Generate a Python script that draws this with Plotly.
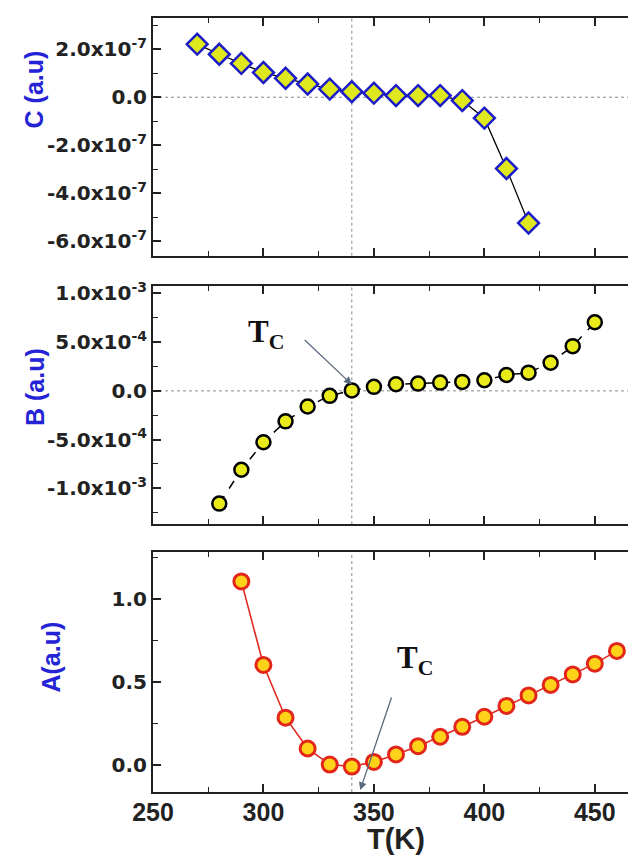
import plotly.graph_objects as go

# ---------------- data ----------------
T_C_panel = [270, 280, 290, 300, 310, 320, 330, 340, 350, 360, 370, 380, 390, 400, 410, 420]
C_vals = [2.21e-7, 1.79e-7, 1.41e-7, 1.03e-7, 7.9e-8, 5.5e-8, 3.4e-8, 2.3e-8, 1.7e-8,
          7e-9, 7e-9, 7e-9, -1.4e-8, -8.7e-8, -2.97e-7, -5.24e-7]

T_B_panel = [280, 290, 300, 310, 320, 330, 340, 350, 360, 370, 380, 390, 400, 410, 420, 430, 440, 450]
B_vals = [-1.157e-3, -8.1e-4, -5.27e-4, -3.13e-4, -1.6e-4, -5.1e-5, 5e-6, 4.1e-5, 6.8e-5,
          7.5e-5, 8.5e-5, 9.2e-5, 1.09e-4, 1.63e-4, 1.87e-4, 2.89e-4, 4.59e-4, 7.04e-4]

T_A_panel = [290, 300, 310, 320, 330, 340, 350, 360, 370, 380, 390, 400, 410, 420, 430, 440, 450, 460]
A_vals = [1.107, 0.602, 0.283, 0.097, 0.0, -0.012, 0.016, 0.061, 0.111, 0.168, 0.228,
          0.289, 0.354, 0.418, 0.481, 0.545, 0.610, 0.687]

x_tickvals = [250, 300, 350, 400, 450]
x_ticktext = ["250", "300", "350", "400", "450"]

C_tickvals = [-6e-7, -4e-7, -2e-7, 0, 2e-7]
C_ticktext = ["-6.0x10<sup>-7</sup>", "-4.0x10<sup>-7</sup>", "-2.0x10<sup>-7</sup>", "0.0",
              "2.0x10<sup>-7</sup>"]
B_tickvals = [-1e-3, -5e-4, 0, 5e-4, 1e-3]
B_ticktext = ["-1.0x10<sup>-3</sup>", "-5.0x10<sup>-4</sup>", "0.0", "5.0x10<sup>-4</sup>",
              "1.0x10<sup>-3</sup>"]
A_tickvals = [0, 0.5, 1.0]
A_ticktext = ["0.0", "0.5", "1.0"]

Tc = 340
x_range = [250, 470]
C_range = [-6.6e-7, 3.3e-7]
B_range = [-1.37e-3, 1.08e-3]
A_range = [-0.166, 1.283]

# ---------------- figure ----------------
fig = go.Figure()

fig.add_trace(go.Scatter(
    x=T_C_panel, y=C_vals, mode="lines+markers", xaxis="x", yaxis="y",
    line=dict(color="black", width=1.3),
    marker=dict(symbol="diamond", size=16, color="#dfe81c",
                line=dict(color="#1c1cc8", width=2.5)),
    showlegend=False))

fig.add_trace(go.Scatter(
    x=T_B_panel, y=B_vals, mode="lines+markers", xaxis="x2", yaxis="y2",
    line=dict(color="black", width=1.5, dash="dash"),
    marker=dict(symbol="circle", size=14, color="#e8ea1a",
                line=dict(color="black", width=2.5)),
    showlegend=False))

fig.add_trace(go.Scatter(
    x=T_A_panel, y=A_vals, mode="lines+markers", xaxis="x3", yaxis="y3",
    line=dict(color="#e02a20", width=1.6),
    marker=dict(symbol="circle", size=15, color="#ffd21a",
                line=dict(color="#e3261a", width=3)),
    showlegend=False))

# geometry (pixels): plot area x 145..633, y 9..784
H = 775.0
def yp(px):
    return (784 - px) / H
def xp(px):
    return (px - 145) / 488.0

dom_top = [yp(247), 1.0]
dom_mid = [yp(516), yp(277)]
dom_bot = [0.0, yp(544)]

tickfont_y = dict(family="DejaVu Sans", size=20, color="#222222", weight="bold")
tickfont_x = dict(family="Liberation Sans", size=25, color="#222222", weight="bold")

def xaxis_cfg(anchor, show_labels):
    return dict(
        domain=[0, 1], anchor=anchor, range=x_range,
        showline=True, linecolor="#222222", linewidth=2, mirror="ticks",
        ticks="inside", ticklen=8, tickwidth=1.5, tickcolor="#222222",
        tickmode="array", tickvals=x_tickvals, ticktext=x_ticktext,
        showticklabels=show_labels, tickfont=tickfont_x, ticklabelstandoff=-3,
        minor=dict(tickvals=[275, 325, 375, 425], ticks="inside", ticklen=5,
                   tickwidth=1.2, tickcolor="#222222"),
        showgrid=False, zeroline=False)

def yaxis_cfg(anchor, dom, rng, vals, text, minor_vals):
    return dict(
        domain=dom, anchor=anchor, range=rng,
        showline=True, linecolor="#222222", linewidth=2, mirror="ticks",
        ticks="inside", ticklen=8, tickwidth=1.5, tickcolor="#222222",
        tickmode="array", tickvals=vals, ticktext=text, tickfont=tickfont_y,
        minor=dict(tickvals=minor_vals, ticks="inside", ticklen=5,
                   tickwidth=1.2, tickcolor="#222222"),
        showgrid=False, zeroline=False)

fig.update_layout(
    width=636, height=857,
    margin=dict(l=145, r=3, t=9, b=73),
    paper_bgcolor="white", plot_bgcolor="white",
    xaxis=xaxis_cfg("y", False),
    xaxis2=xaxis_cfg("y2", False),
    xaxis3=xaxis_cfg("y3", True),
    yaxis=yaxis_cfg("x", dom_top, C_range, C_tickvals, C_ticktext,
                    [-5e-7, -3e-7, -1e-7, 1e-7, 3e-7]),
    yaxis2=yaxis_cfg("x2", dom_mid, B_range, B_tickvals, B_ticktext,
                     [-1.25e-3, -7.5e-4, -2.5e-4, 2.5e-4, 7.5e-4]),
    yaxis3=yaxis_cfg("x3", dom_bot, A_range, A_tickvals, A_ticktext,
                     [-0.25, 0.25, 0.75, 1.25]),
)

# reference dotted lines
dot = dict(color="#8a8a8a", width=1, dash="dot")
for xr, yr in [("x", "y"), ("x2", "y2"), ("x3", "y3")]:
    fig.add_shape(type="line", xref=xr, yref=yr + " domain", x0=Tc, x1=Tc, y0=0, y1=1,
                  line=dot, layer="below")
for xr, yr in [("x", "y"), ("x2", "y2")]:
    fig.add_shape(type="line", xref=xr + " domain", yref=yr, x0=0, x1=1, y0=0, y1=0,
                  line=dot, layer="below")

# axis titles
ytitle_font = dict(family="Liberation Sans", size=25, color="#2424d6", weight="bold")
fig.add_annotation(text="C (a.u)", xref="paper", yref="paper", x=xp(25), y=yp(80),
                   textangle=-90, showarrow=False, font=ytitle_font,
                   xanchor="center", yanchor="middle")
fig.add_annotation(text="B (a.u)", xref="paper", yref="paper", x=xp(26), y=yp(378),
                   textangle=-90, showarrow=False, font=ytitle_font,
                   xanchor="center", yanchor="middle")
fig.add_annotation(text="A(a.u)", xref="paper", yref="paper", x=xp(43), y=yp(649),
                   textangle=-90, showarrow=False, font=ytitle_font,
                   xanchor="center", yanchor="middle")
fig.add_annotation(text="T(K)", xref="paper", yref="paper", x=0.5, y=yp(831),
                   showarrow=False, xanchor="center", yanchor="middle",
                   font=dict(family="Liberation Sans", size=29, color="#222222",
                             weight="bold"))

# T_C annotations with arrows
tc_font = dict(family="Liberation Serif", size=31, color="#111111", weight="bold")
fig.add_annotation(text="T<sub>C</sub>", xref="x2", yref="y2", x=301, y=5.8e-4,
                   showarrow=False, font=tc_font)
fig.add_annotation(xref="x2", yref="y2", x=340, y=6.5e-5, ax=318, ay=5.37e-4,
                   axref="x2", ayref="y2", text="", showarrow=True,
                   arrowhead=2, arrowsize=1.2, arrowwidth=1.3, arrowcolor="#5a6a7e")
fig.add_annotation(text="T<sub>C</sub>", xref="x3", yref="y3", x=368.5, y=0.63,
                   showarrow=False, font=tc_font)
fig.add_annotation(xref="x3", yref="y3", x=343.8, y=-0.154, ax=358.2, ay=0.414,
                   axref="x3", ayref="y3", text="", showarrow=True,
                   arrowhead=2, arrowsize=1.2, arrowwidth=1.3, arrowcolor="#5a6a7e")

fig.write_html("out.html")
